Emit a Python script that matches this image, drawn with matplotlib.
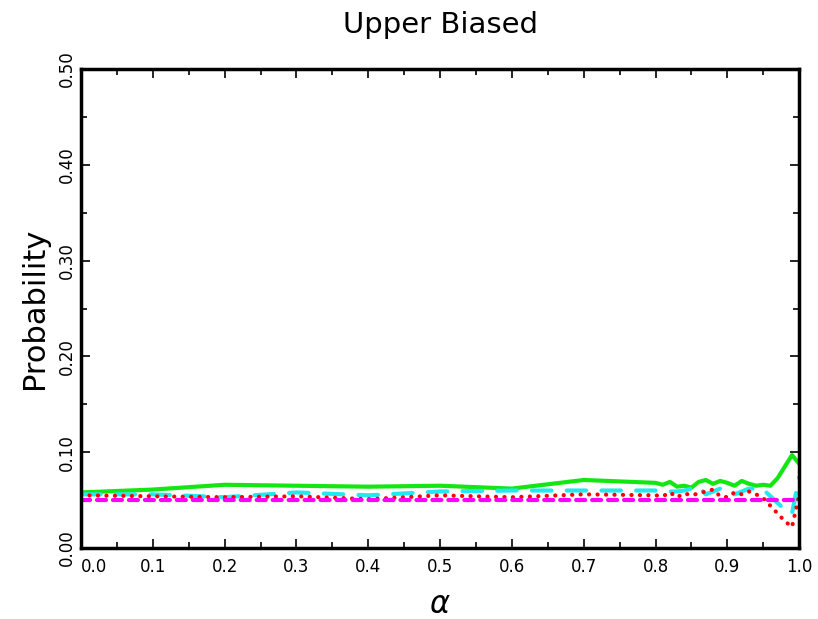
import matplotlib
matplotlib.use("Agg")
import matplotlib.pyplot as plt
from matplotlib.ticker import FixedLocator, MultipleLocator

# alpha grid: coarse up to 0.8, then every 0.01 to 1.0
alpha = [0.0, 0.1, 0.2, 0.3, 0.4, 0.5, 0.6, 0.7, 0.8,
         0.81, 0.82, 0.83, 0.84, 0.85, 0.86, 0.87, 0.88, 0.89, 0.90,
         0.91, 0.92, 0.93, 0.94, 0.95, 0.96, 0.97, 0.98, 0.99, 1.0]

green_vals = [0.058, 0.061, 0.066, 0.065, 0.064, 0.065, 0.062, 0.071, 0.068,
              0.066, 0.069, 0.064, 0.065, 0.063, 0.069, 0.071, 0.067, 0.070, 0.068,
              0.065, 0.070, 0.067, 0.065, 0.066, 0.065, 0.073, 0.085, 0.097, 0.088]

cyan_vals = [0.056, 0.056, 0.053, 0.058, 0.055, 0.059, 0.060, 0.060, 0.060,
             0.059, 0.059, 0.059, 0.060, 0.062, 0.064, 0.056, 0.059, 0.062, 0.059,
             0.056, 0.059, 0.062, 0.062, 0.061, 0.054, 0.047, 0.040, 0.036, 0.074]

red_vals = [0.055, 0.054, 0.053, 0.054, 0.051, 0.055, 0.053, 0.056, 0.055,
            0.054, 0.058, 0.053, 0.057, 0.055, 0.057, 0.059, 0.061, 0.054, 0.053,
            0.058, 0.056, 0.059, 0.056, 0.052, 0.044, 0.036, 0.028, 0.022, 0.055]

magenta_vals = [0.05] * len(alpha)

x_ticks = [0.0, 0.1, 0.2, 0.3, 0.4, 0.5, 0.6, 0.7, 0.8, 0.9, 1.0]
x_ticklabels = ["0.0", "0.1", "0.2", "0.3", "0.4", "0.5",
                "0.6", "0.7", "0.8", "0.9", "1.0"]
y_ticks = [0.0, 0.1, 0.2, 0.3, 0.4, 0.5]
y_ticklabels = ["0.00", "0.10", "0.20", "0.30", "0.40", "0.50"]

plt.rcParams["lines.scale_dashes"] = False

fig = plt.figure(figsize=(8.18, 6.19), dpi=100)
ax = fig.add_axes([0.099, 0.1147, 0.878, 0.7738])

ax.plot(alpha, green_vals, color="#14e614", linewidth=3.0)
ax.plot(alpha, cyan_vals, color="#22e8f0", linewidth=3.0,
        dashes=(14, 11), dash_capstyle="round")
ax.plot(alpha, red_vals, color="#ff0000", linewidth=3.0,
        dashes=(0.1, 6), dash_capstyle="round")
ax.plot(alpha, magenta_vals, color="#ff00ff", linewidth=3.0,
        dashes=(6.5, 5), dash_capstyle="round")

ax.set_xlim(0.0, 1.0)
ax.set_ylim(0.0, 0.5)

ax.xaxis.set_major_locator(FixedLocator(x_ticks))
ax.xaxis.set_minor_locator(MultipleLocator(0.05))
ax.yaxis.set_major_locator(FixedLocator(y_ticks))
ax.yaxis.set_minor_locator(MultipleLocator(0.05))

ax.set_xticklabels(x_ticklabels)
ax.set_yticklabels(y_ticklabels, rotation=90, va="center")

ax.tick_params(which="both", direction="in", top=True, right=True,
               width=1.2, labelsize=12)
ax.tick_params(which="major", length=6.5)
ax.tick_params(which="minor", length=4.5)
ax.tick_params(axis="x", pad=7)
ax.tick_params(axis="y", pad=4)

for sp in ax.spines.values():
    sp.set_linewidth(2.5)

ax.set_title("Upper Biased", fontsize=21, pad=26)
ax.set_ylabel("Probability", fontsize=22, labelpad=6)
ax.set_xlabel(r"$\alpha$", fontsize=22, labelpad=10)

# the first x label sits just right of the axis corner, clear of "0.00"
fig.canvas.draw()
for tick in ax.xaxis.get_major_ticks():
    if tick.get_loc() == 0.0:
        tick.label1.set_horizontalalignment("left")

fig.savefig("out.png", dpi=100)
